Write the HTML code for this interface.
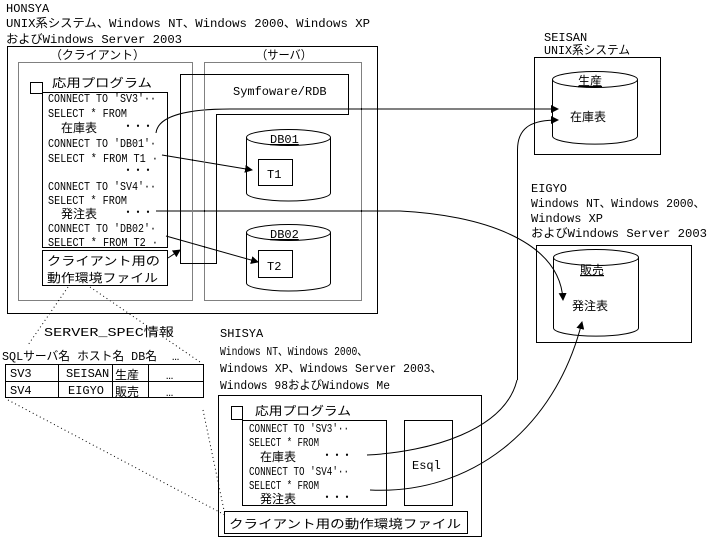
<!DOCTYPE html>
<html><head><meta charset="utf-8"><style>
html,body{margin:0;padding:0;background:#fff;}
svg{display:block;}
text{font-family:"Liberation Mono","Noto Sans CJK JP",monospace;font-size:12px;fill:#000;}
.s{font-size:12px;}
</style></head><body>
<svg width="712" height="538" viewBox="0 0 712 538" xmlns="http://www.w3.org/2000/svg">
<defs><marker id="a" markerWidth="8" markerHeight="8" refX="7" refY="4" orient="auto" markerUnits="userSpaceOnUse"><path d="M0,0 L8,4 L0,8z" fill="#000"/></marker></defs>
<g fill="none" stroke="#000" stroke-width="1">
<rect x="7.5" y="46.5" width="370" height="267"/>
<rect x="18.5" y="62.5" width="174" height="238" stroke-dasharray="1,1"/>
<rect x="204.5" y="62.5" width="157" height="238" stroke-dasharray="1,1"/>
<rect x="30.5" y="82.5" width="12" height="11"/>
<rect x="42.5" y="92.5" width="125" height="155"/>
<rect x="42.5" y="250.5" width="125" height="35"/>
<path d="M180.5,74.5 H348.5 V114.5 H216.5 V263.5 H180.5 Z"/>
<path d="M246.5,137.5 V193 A42,8 0 0 0 330.5,193 V137.5"/><ellipse cx="288.5" cy="137.5" rx="42" ry="8"/>
<rect x="258.5" y="159.5" width="34" height="26"/>
<path d="M246.5,232.5 V283 A42,8 0 0 0 330.5,283 V232.5"/><ellipse cx="288.5" cy="232.5" rx="42" ry="8"/>
<rect x="258.5" y="250.5" width="34" height="27"/>
<line x1="162" y1="155" x2="252" y2="170" marker-end="url(#a)"/>
<line x1="166" y1="236" x2="258" y2="262" marker-end="url(#a)"/>
<line x1="168" y1="258" x2="180" y2="250" marker-end="url(#a)"/>
<path d="M156,133 C158,115 190,109 230,109 H558" marker-end="url(#a)"/>
<path d="M156,211 H400 C480,215 560,240 563,300" marker-end="url(#a)"/>
<rect x="534.5" y="57.5" width="126" height="97"/>
<path d="M552.5,79.5 V136 A42,8 0 0 0 637.5,136 V79.5"/><ellipse cx="595" cy="79.5" rx="42.5" ry="8"/>
<path d="M517.5,380 V150 C517.5,125 535,120 558,120" marker-end="url(#a)"/>
<rect x="536.5" y="245.5" width="155" height="97"/>
<path d="M553.5,257.5 V328 A42,8 0 0 0 638.5,328 V257.5"/><ellipse cx="596" cy="257.5" rx="42.5" ry="8"/>
<rect x="218.5" y="395.5" width="263" height="141"/>
<rect x="231.5" y="406.5" width="11" height="13"/>
<rect x="242.5" y="420.5" width="144" height="85"/>
<rect x="404.5" y="420.5" width="48" height="85"/>
<rect x="224.5" y="511.5" width="243" height="22"/>
<path d="M367,455 C430,452 505,430 517,380"/>
<path d="M370,490 C470,495 555,430 582,322" marker-end="url(#a)"/>
<rect x="5.5" y="364.5" width="198" height="33"/>
<line x1="5" y1="381.5" x2="203" y2="381.5"/>
<line x1="58.5" y1="364" x2="58.5" y2="398"/>
<line x1="112.5" y1="364" x2="112.5" y2="398"/>
<line x1="148.5" y1="364" x2="148.5" y2="398"/>
<g stroke-dasharray="1,3">
<path d="M68,287 L28,345"/><path d="M90,287 L200,362"/>
<path d="M8,400 L225,515"/><path d="M203,410 L225,515"/>
</g>
</g>
<text x="6" y="12">HONSYA</text>
<text x="6" y="27" textLength="364" lengthAdjust="spacingAndGlyphs">UNIX系システム、Windows NT、Windows 2000、Windows XP</text>
<text x="6" y="43" textLength="176" lengthAdjust="spacingAndGlyphs">およびWindows Server 2003</text>
<text x="50" y="59" textLength="95" lengthAdjust="spacingAndGlyphs">（クライアント）</text>
<text x="256" y="59" textLength="56" lengthAdjust="spacingAndGlyphs">（サーバ）</text>
<text x="52" y="87" font-size="14" textLength="100" lengthAdjust="spacingAndGlyphs">応用プログラム</text>
<g class="s">
<text x="48" y="102" textLength="108" lengthAdjust="spacingAndGlyphs">CONNECT TO 'SV3'··</text>
<text x="48" y="117" textLength="79" lengthAdjust="spacingAndGlyphs">SELECT * FROM</text>
<text x="61" y="132" font-size="13">在庫表</text><text x="123" y="130" textLength="30" lengthAdjust="spacingAndGlyphs">・・・</text>
<text x="48" y="147" textLength="108" lengthAdjust="spacingAndGlyphs">CONNECT TO 'DB01'·</text>
<text x="48" y="162" textLength="110" lengthAdjust="spacingAndGlyphs">SELECT * FROM T1 ·</text>
<text x="123" y="174" textLength="30" lengthAdjust="spacingAndGlyphs">・・・</text>
<text x="48" y="190" textLength="108" lengthAdjust="spacingAndGlyphs">CONNECT TO 'SV4'··</text>
<text x="48" y="204" textLength="79" lengthAdjust="spacingAndGlyphs">SELECT * FROM</text>
<text x="61" y="218" font-size="13">発注表</text><text x="123" y="216" textLength="30" lengthAdjust="spacingAndGlyphs">・・・</text>
<text x="48" y="232" textLength="108" lengthAdjust="spacingAndGlyphs">CONNECT TO 'DB02'·</text>
<text x="48" y="246" textLength="110" lengthAdjust="spacingAndGlyphs">SELECT * FROM T2 ·</text>
</g>
<text x="47" y="265" font-size="14" textLength="113" lengthAdjust="spacingAndGlyphs">クライアント用の</text>
<text x="47" y="282" font-size="14" textLength="111" lengthAdjust="spacingAndGlyphs">動作環境ファイル</text>
<text x="233" y="95">Symfoware/RDB</text>
<text x="270" y="143" text-decoration="underline">DB01</text>
<text x="267" y="178">T1</text>
<text x="270" y="238" text-decoration="underline">DB02</text>
<text x="267" y="270">T2</text>
<text x="544" y="41">SEISAN</text>
<text x="544" y="54" textLength="86" lengthAdjust="spacingAndGlyphs">UNIX系システム</text>
<text x="578" y="85" text-decoration="underline">生産</text>
<text x="570" y="121" font-size="14">在庫表</text>
<text x="531" y="192">EIGYO</text>
<text x="531" y="207" textLength="174" lengthAdjust="spacingAndGlyphs">Windows NT、Windows 2000、</text>
<text x="531" y="222">Windows XP</text>
<text x="531" y="237" textLength="176" lengthAdjust="spacingAndGlyphs">およびWindows Server 2003</text>
<text x="580" y="274" text-decoration="underline">販売</text>
<text x="572" y="310" font-size="14">発注表</text>
<text x="44" y="336" textLength="130" lengthAdjust="spacingAndGlyphs">SERVER_SPEC情報</text>
<text x="2" y="360" textLength="155" lengthAdjust="spacingAndGlyphs">SQLサーバ名 ホスト名 DB名</text>
<text x="172" y="360">…</text>
<text x="10" y="377">SV3</text><text x="66" y="377">SEISAN</text><text x="115" y="379" font-size="14">生産</text><text x="166" y="379">…</text>
<text x="10" y="394">SV4</text><text x="68" y="394">EIGYO</text><text x="115" y="396" font-size="14">販売</text><text x="166" y="396">…</text>
<text x="220" y="337">SHISYA</text>
<text x="220" y="355" textLength="147" lengthAdjust="spacingAndGlyphs">Windows NT、Windows 2000、</text>
<text x="220" y="372" textLength="222" lengthAdjust="spacingAndGlyphs">Windows XP、Windows Server 2003、</text>
<text x="220" y="389" textLength="170" lengthAdjust="spacingAndGlyphs">Windows 98およびWindows Me</text>
<text x="255" y="415" font-size="14" textLength="96" lengthAdjust="spacingAndGlyphs">応用プログラム</text>
<g class="s">
<text x="249" y="432" textLength="100" lengthAdjust="spacingAndGlyphs">CONNECT TO 'SV3'··</text>
<text x="249" y="446" textLength="70" lengthAdjust="spacingAndGlyphs">SELECT * FROM</text>
<text x="260" y="461" font-size="13">在庫表</text><text x="322" y="459" textLength="30" lengthAdjust="spacingAndGlyphs">・・・</text>
<text x="249" y="475" textLength="100" lengthAdjust="spacingAndGlyphs">CONNECT TO 'SV4'··</text>
<text x="249" y="489" textLength="70" lengthAdjust="spacingAndGlyphs">SELECT * FROM</text>
<text x="260" y="503" font-size="13">発注表</text><text x="322" y="501" textLength="30" lengthAdjust="spacingAndGlyphs">・・・</text>
</g>
<text x="412" y="469">Esql</text>
<text x="229" y="528" font-size="14" textLength="232" lengthAdjust="spacingAndGlyphs">クライアント用の動作環境ファイル</text>
</svg>
</body></html>
